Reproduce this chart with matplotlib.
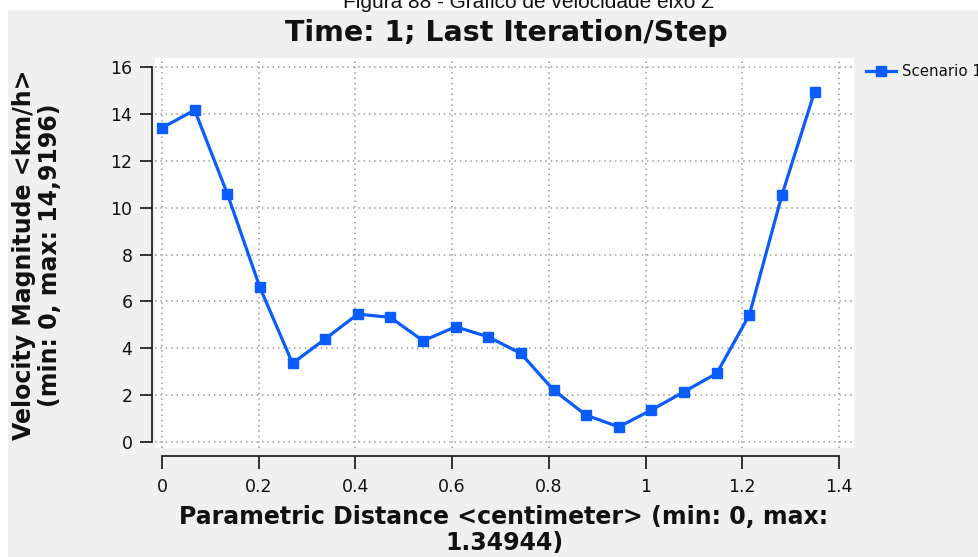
import matplotlib
matplotlib.use("Agg")
import matplotlib.pyplot as plt
import numpy as np

# Data
distance = [0.0, 0.0675, 0.1349, 0.2024, 0.2699, 0.3374, 0.4048, 0.4723, 0.5398, 0.6072,
            0.6747, 0.7422, 0.8097, 0.8771, 0.9446, 1.0121, 1.0795, 1.1470, 1.2145, 1.2820, 1.3494]
velocity = [13.4, 14.16, 10.6, 6.6, 3.36, 4.4, 5.46, 5.32, 4.32, 4.92,
            4.49, 3.78, 2.22, 1.15, 0.65, 1.37, 2.15, 2.93, 5.42, 10.54, 14.94]
xticks = [0, 0.2, 0.4, 0.6, 0.8, 1.0, 1.2, 1.4]
xticklabels = ["0", "0.2", "0.4", "0.6", "0.8", "1", "1.2", "1.4"]
yticks = [0, 2, 4, 6, 8, 10, 12, 14, 16]
series_name = "Scenario 1"

W, H = 979, 557
fig = plt.figure(figsize=(W / 100, H / 100), dpi=100)
fig.patch.set_facecolor("white")

# grey panel as a background axes
bg = fig.add_axes([8 / W, 0, 1 - 8 / W, 1 - 10 / H], zorder=-10)
bg.set_facecolor("#f0f0f0")
bg.set_xticks([])
bg.set_yticks([])
for s in bg.spines.values():
    s.set_visible(False)

# caption at top (cut off at the top edge, as in the reference)
fig.text(528 / W, 1 - 3 / H, "Figura 88 - Gráfico de velocidade eixo Z",
         ha="center", va="center", fontsize=15, family="Liberation Sans", color="#111111")

ax = fig.add_axes([155 / W, 1 - 448 / H, (854 - 155) / W, (448 - 58) / H], zorder=1)
ax.set_facecolor("white")
ax.set_xlim(-0.0145, 1.431)
ax.set_ylim(-0.25, 16.38)

color = "#0a5cff"
ax.plot(distance, velocity, color=color, lw=2.3, marker="s", ms=7.5,
        markerfacecolor=color, markeredgecolor=color, clip_on=False, zorder=3)

ax.set_xticks(xticks)
ax.set_xticklabels(xticklabels)
ax.set_yticks(yticks)
ax.grid(True, color="#9a9a9a", linestyle=(0, (1, 2.5)), linewidth=1.1)

for s in ["top", "right"]:
    ax.spines[s].set_visible(False)
ax.spines["left"].set_position(("outward", 2.2))
ax.spines["left"].set_bounds(0, 16)
ax.spines["bottom"].set_position(("outward", 5.5))
ax.spines["bottom"].set_bounds(0, 1.4)
for s in ["left", "bottom"]:
    ax.spines[s].set_linewidth(1.3)
    ax.spines[s].set_color("#222222")

ax.tick_params(axis="y", direction="out", length=9, width=1.3, pad=5, labelsize=12.5,
               colors="#222222")
ax.tick_params(axis="x", direction="out", length=9.5, width=1.3, pad=6.5, labelsize=12.5,
               colors="#222222")
for lab in ax.get_xticklabels() + ax.get_yticklabels():
    lab.set_family("DejaVu Sans")
    lab.set_color("#111111")

fig.text(506 / W, 1 - 33 / H, "Time: 1; Last Iteration/Step", ha="center", va="center",
         fontsize=20.5, fontweight="bold", family="DejaVu Sans", color="#111111")

fig.text(504 / W, 1 - 530 / H, "Parametric Distance <centimeter> (min: 0, max:\n1.34944)",
         ha="center", va="center", fontsize=17, fontweight="bold", family="DejaVu Sans",
         color="#111111", linespacing=1.08)

fig.text(37 / W, 1 - 255 / H, "Velocity Magnitude <km/h>\n(min: 0, max: 14,9196)",
         ha="center", va="center", rotation=90, fontsize=17, fontweight="bold",
         family="DejaVu Sans", color="#111111", linespacing=1.08)

# legend
ly = 1 - 71 / H
fig.lines.append(plt.Line2D([866 / W, 896 / W], [ly, ly], transform=fig.transFigure,
                            color=color, lw=2.3, zorder=5))
fig.lines.append(plt.Line2D([881 / W], [ly], transform=fig.transFigure, color=color,
                            marker="s", ms=7, markerfacecolor=color, markeredgecolor=color,
                            zorder=5))
fig.text(902 / W, ly, series_name, ha="left", va="center", fontsize=10.8,
         family="DejaVu Sans", color="#111111")

fig.savefig("out.png", dpi=100, facecolor=fig.get_facecolor())
